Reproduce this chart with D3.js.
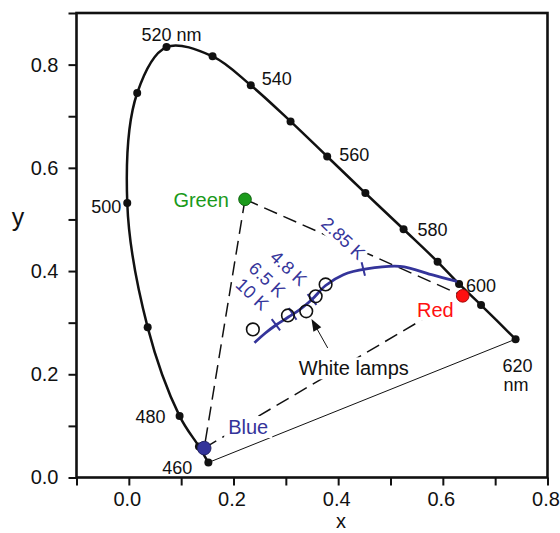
<!DOCTYPE html>
<html>
<head>
<meta charset="utf-8">
<script src="https://cdn.jsdelivr.net/npm/d3@7"></script>
<style>
body { margin: 0; background: #fff; }
svg { display: block; font-family: "Liberation Sans", Arial, sans-serif; }
</style>
</head>
<body>
<div id="chart"></div>
<script>
// spectral locus
var waveNm   = [460, 470, 480, 490, 500, 510, 520, 530, 540, 550, 560, 570, 580, 590, 600, 610, 620];
var locusX   = [0.152, 0.134, 0.097, 0.036, -0.003, 0.016, 0.072, 0.160, 0.233, 0.309, 0.379, 0.452, 0.525, 0.590, 0.631, 0.673, 0.739];
var locusY   = [0.029, 0.060, 0.119, 0.291, 0.532, 0.745, 0.834, 0.816, 0.760, 0.690, 0.622, 0.551, 0.481, 0.418, 0.375, 0.334, 0.268];
var waveText = ["460", "", "480", "", "500", "", "520 nm", "", "540", "", "560", "", "580", "", "600", "", "620|nm"];

// primaries
var primName  = ["Green", "Red", "Blue"];
var primX     = [0.222, 0.638, 0.144];
var primY     = [0.539, 0.352, 0.057];
var primColor = ["#1a9a1a", "#ff1010", "#34349a"];

// blackbody locus
var bbX = [0.240, 0.261, 0.282, 0.305, 0.326, 0.350, 0.376, 0.410, 0.454, 0.518, 0.582, 0.627];
var bbY = [0.261, 0.280, 0.296, 0.311, 0.325, 0.345, 0.372, 0.393, 0.404, 0.409, 0.392, 0.380];
var tempText = ["10 K", "6.5 K", "4.8 K", "2.85 K"];
var tempX = [0.281, 0.313, 0.350, 0.448];
var tempY = [0.296, 0.317, 0.345, 0.404];

// white lamps
var lampX = [0.237, 0.304, 0.339, 0.357, 0.376];
var lampY = [0.287, 0.314, 0.322, 0.351, 0.374];

var xTicks = [-0.1, 0.0, 0.1, 0.2, 0.3, 0.4, 0.5, 0.6, 0.7, 0.8];
var xTickText = ["", "0.0", "", "0.2", "", "0.4", "", "0.6", "", "0.8"];
var yTicks = [0.0, 0.1, 0.2, 0.3, 0.4, 0.5, 0.6, 0.7, 0.8, 0.9];
var yTickText = ["0.0", "", "0.2", "", "0.4", "", "0.6", "", "0.8", ""];

function init() {
    var w = 560, h = 533;
    var blue = "#34349a";

    var xScale = d3.scaleLinear().domain([-0.1, 0.8]).range([76.5, 547.5]);
    var yScale = d3.scaleLinear().domain([0, 0.9]).range([477.5, 13]);

    var svg = d3.select("#chart").append("svg")
        .attr("width", w)
        .attr("height", h);

    // axes
    var xAxis = d3.axisBottom(xScale)
        .tickValues(xTicks)
        .tickSize(8).tickSizeOuter(0).tickPadding(6)
        .tickFormat(function(d, i) { return xTickText[i]; });
    var yAxis = d3.axisLeft(yScale)
        .tickValues(yTicks)
        .tickSize(8).tickSizeOuter(0).tickPadding(10)
        .tickFormat(function(d, i) { return yTickText[i]; });

    var gx = svg.append("g")
        .attr("transform", "translate(0," + yScale(0) + ")")
        .call(xAxis);
    var gy = svg.append("g")
        .attr("transform", "translate(" + xScale(-0.1) + ",0)")
        .call(yAxis);
    [gx, gy].forEach(function(g) {
        g.select(".domain").remove();
        g.selectAll("line").attr("stroke", "#111").attr("stroke-width", 2);
        g.selectAll("text").attr("font-size", 20).attr("fill", "#111")
            .attr("font-family", "Liberation Sans, Arial, sans-serif");
    });
    gx.selectAll("text").attr("dx", -2);

    svg.append("rect")
        .attr("x", xScale(-0.1)).attr("y", yScale(0.9))
        .attr("width", xScale(0.8) - xScale(-0.1))
        .attr("height", yScale(0) - yScale(0.9))
        .attr("fill", "none").attr("stroke", "#111").attr("stroke-width", 2.6);

    svg.append("text").text("x")
        .attr("x", 341).attr("y", 528)
        .attr("text-anchor", "middle").attr("font-size", 20).attr("fill", "#111");
    svg.append("text").text("y")
        .attr("x", 18).attr("y", 226)
        .attr("text-anchor", "middle").attr("font-size", 25).attr("fill", "#111");

    var idx = d3.range(waveNm.length);

    // line of purples
    svg.append("line")
        .attr("x1", xScale(locusX[0])).attr("y1", yScale(locusY[0]))
        .attr("x2", xScale(locusX[16])).attr("y2", yScale(locusY[16]))
        .attr("stroke", "#111").attr("stroke-width", 1);

    // colour triangle
    var tri = [[0, 2], [0, 1], [2, 1]];
    svg.selectAll(".tri")
        .data(tri)
        .enter()
        .append("line")
        .attr("class", "tri")
        .attr("x1", function(d) { return xScale(primX[d[0]]); })
        .attr("y1", function(d) { return yScale(primY[d[0]]); })
        .attr("x2", function(d) { return xScale(primX[d[1]]); })
        .attr("y2", function(d) { return yScale(primY[d[1]]); })
        .attr("stroke", "#111").attr("stroke-width", 1.5)
        .attr("stroke-dasharray", "14,7");

    // spectral locus
    var locusLine = d3.line()
        .x(function(i) { return xScale(locusX[i]); })
        .y(function(i) { return yScale(locusY[i]); })
        .curve(d3.curveCatmullRom.alpha(0.5));
    svg.append("path")
        .attr("d", locusLine(idx))
        .attr("fill", "none").attr("stroke", "#111").attr("stroke-width", 2.5);

    svg.selectAll(".wdot")
        .data(idx)
        .enter()
        .append("circle")
        .attr("class", "wdot")
        .attr("cx", function(i) { return xScale(locusX[i]); })
        .attr("cy", function(i) { return yScale(locusY[i]); })
        .attr("r", 4)
        .attr("fill", "#111");

    // wavelength labels: [dx, dy, anchor]
    var wOff = {
        460: [-16, 11, "end"], 480: [-14, 7, "end"], 500: [-6, 10, "end"],
        520: [-25, -6, "start"], 540: [11, 0, "start"], 560: [12, 5, "start"],
        580: [14, 7, "start"], 600: [7, 8, "start"], 620: [-13, 33, "start"]
    };
    idx.forEach(function(i) {
        if (!waveText[i]) return;
        var o = wOff[waveNm[i]];
        var t = svg.append("text")
            .attr("x", xScale(locusX[i]) + o[0])
            .attr("y", yScale(locusY[i]) + o[1])
            .attr("text-anchor", o[2])
            .attr("font-size", 18).attr("fill", "#111");
        waveText[i].split("|").forEach(function(s, k) {
            t.append("tspan")
                .attr("x", xScale(locusX[i]) + o[0] + (k ? 1 : 0))
                .attr("dy", k ? 19 : 0)
                .text(s);
        });
    });

    // blackbody curve
    var bbLine = d3.line()
        .x(function(i) { return xScale(bbX[i]); })
        .y(function(i) { return yScale(bbY[i]); })
        .curve(d3.curveCatmullRom.alpha(0.5));
    svg.append("path")
        .attr("d", bbLine(d3.range(bbX.length)))
        .attr("fill", "none").attr("stroke", blue).attr("stroke-width", 2.8);

    // temperature ticks, perpendicular to the curve
    var tOff = [[-10, -18], [-10, -20], [-8, -17], [-1, -13]];
    tempText.forEach(function(s, i) {
        var px = xScale(tempX[i]), py = yScale(tempY[i]);
        var j = d3.bisectLeft(bbX, tempX[i]);
        j = Math.max(1, Math.min(bbX.length - 1, j));
        var dx = xScale(bbX[j]) - xScale(bbX[j - 1]);
        var dy = yScale(bbY[j]) - yScale(bbY[j - 1]);
        var len = Math.sqrt(dx * dx + dy * dy);
        var nx = -dy / len, ny = dx / len;
        svg.append("line")
            .attr("x1", px - nx * 7).attr("y1", py - ny * 7)
            .attr("x2", px + nx * 7).attr("y2", py + ny * 7)
            .attr("stroke", blue).attr("stroke-width", 2);

        var g = svg.append("g")
            .attr("transform", "translate(" + (px + tOff[i][0]) + "," + (py + tOff[i][1]) + ") rotate(43)");
        var bg = g.append("rect").attr("fill", "#fff");
        var t = g.append("text").text(s)
            .attr("text-anchor", "end")
            .attr("dy", "0.35em")
            .attr("font-size", 18).attr("fill", blue);
        if (i === 3) {
            var b = t.node().getBBox();
            bg.attr("x", b.x - 2).attr("y", b.y).attr("width", b.width + 4).attr("height", b.height);
        }
    });

    // white lamps
    svg.selectAll(".lamp")
        .data(d3.range(lampX.length))
        .enter()
        .append("circle")
        .attr("class", "lamp")
        .attr("cx", function(i) { return xScale(lampX[i]); })
        .attr("cy", function(i) { return yScale(lampY[i]); })
        .attr("r", 6.3)
        .attr("fill", "none").attr("stroke", "#111").attr("stroke-width", 1.6);

    // arrow to the lamps
    var ax1 = xScale(0.380), ay1 = yScale(0.251);
    var ax2 = xScale(0.349), ay2 = yScale(0.307);
    var ang = Math.atan2(ay2 - ay1, ax2 - ax1);
    svg.append("line")
        .attr("x1", ax1).attr("y1", ay1)
        .attr("x2", ax2 - Math.cos(ang) * 8).attr("y2", ay2 - Math.sin(ang) * 8)
        .attr("stroke", "#111").attr("stroke-width", 1);
    svg.append("path")
        .attr("d", "M0,0L-12,-4.5L-12,4.5Z")
        .attr("transform", "translate(" + ax2 + "," + ay2 + ") rotate(" + (ang * 180 / Math.PI) + ")")
        .attr("fill", "#111");

    function label(s, x, y, anchor, color) {
        var bg = svg.append("rect").attr("fill", "#fff");
        var t = svg.append("text").text(s)
            .attr("x", x).attr("y", y)
            .attr("text-anchor", anchor)
            .attr("font-size", 20).attr("fill", color);
        var b = t.node().getBBox();
        bg.attr("x", b.x - 4).attr("y", b.y).attr("width", b.width + 8).attr("height", b.height);
    }
    label("White lamps", xScale(0.43), yScale(0.198), "middle", "#111");

    // primaries
    var pOff = [[-16, 8, "end"], [-9, 21, "end"], [24, -14, "start"]];
    primName.forEach(function(s, i) {
        label(s, xScale(primX[i]) + pOff[i][0], yScale(primY[i]) + pOff[i][1], pOff[i][2], primColor[i]);
    });
    svg.selectAll(".prim")
        .data(d3.range(primName.length))
        .enter()
        .append("circle")
        .attr("class", "prim")
        .attr("cx", function(i) { return xScale(primX[i]); })
        .attr("cy", function(i) { return yScale(primY[i]); })
        .attr("r", function(i) { return i === 2 ? 6.8 : 6.3; })
        .attr("fill", function(i) { return primColor[i]; })
        .attr("stroke", function(i) { return d3.color(primColor[i]).darker(1.2); })
        .attr("stroke-width", 1);
}

window.onload = init;
</script>
</body>
</html>
